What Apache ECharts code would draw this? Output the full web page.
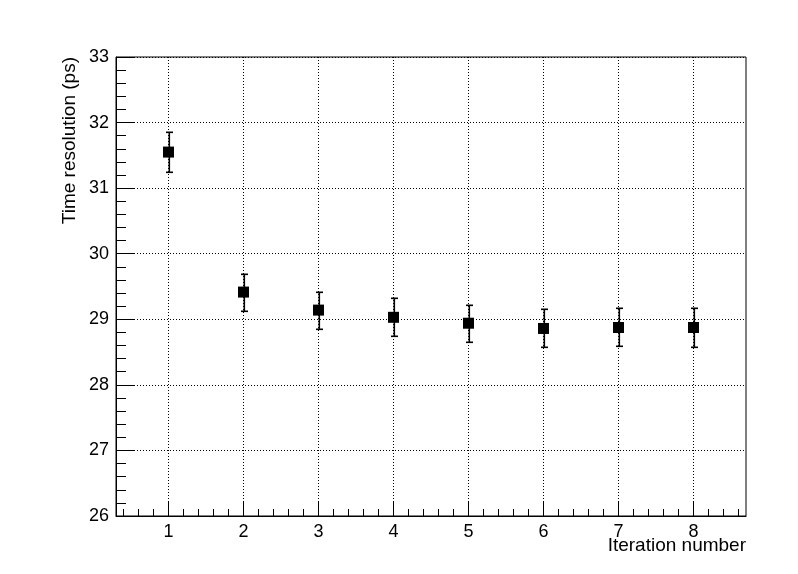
<!DOCTYPE html>
<html>
<head>
<meta charset="utf-8">
<script src="https://cdn.jsdelivr.net/npm/echarts@6/dist/echarts.min.js"></script>
<style>html,body{margin:0;padding:0;background:#fff;}#c{width:798px;height:574px;}</style>
</head>
<body>
<div id="c"></div>
<script>
// ---- data ----
var iterations = [1, 2, 3, 4, 5, 6, 7, 8];
var resolution = [31.55, 29.415, 29.14, 29.03, 28.94, 28.86, 28.875, 28.875];
var errUp   = [0.31, 0.28, 0.28, 0.29, 0.28, 0.29, 0.30, 0.30];
var errDown = [0.30, 0.29, 0.29, 0.28, 0.29, 0.28, 0.29, 0.30];
var xMajorTicks = [1, 2, 3, 4, 5, 6, 7, 8];
var xMinorTicks = [0.4, 0.6, 0.8, 1.2, 1.4, 1.6, 1.8, 2.2, 2.4, 2.6, 2.8, 3.2, 3.4, 3.6, 3.8,
                   4.2, 4.4, 4.6, 4.8, 5.2, 5.4, 5.6, 5.8, 6.2, 6.4, 6.6, 6.8, 7.2, 7.4, 7.6, 7.8,
                   8.2, 8.4, 8.6];
var xTitle = 'Iteration number';
var yTitle = 'Time resolution (ps)';

var FONT = 'Liberation Sans, Arial, Helvetica, sans-serif';
var chart = echarts.init(document.getElementById('c'), null, {renderer: 'canvas'});

var pointData = iterations.map(function (x, i) { return [x, resolution[i]]; });
var errData = iterations.map(function (x, i) {
  return [x, resolution[i] - errDown[i], resolution[i] + errUp[i]];
});

var option = {
  animation: false,
  backgroundColor: '#fff',
  grid: {
    left: 116, right: 52, top: 57, bottom: 58,
    show: true, borderColor: '#000', borderWidth: 1, backgroundColor: 'transparent'
  },
  xAxis: [{
    type: 'value', min: 0.3, max: 8.7, position: 'bottom',
    axisLine: {show: true, onZero: false, lineStyle: {color: '#000', width: 1}},
    axisTick: {show: true, inside: true, length: 15, customValues: xMajorTicks, lineStyle: {color: '#000', width: 1}},
    axisLabel: {show: true, customValues: xMajorTicks, fontSize: 18, fontFamily: FONT, color: '#000', margin: 7},
    splitLine: {show: true, lineStyle: {color: '#000', width: 1, type: [1, 2]}}
  }, {
    type: 'value', min: 0.3, max: 8.7, position: 'bottom',
    axisLine: {show: false},
    axisTick: {show: true, inside: true, length: 7, customValues: xMinorTicks, lineStyle: {color: '#000', width: 1}},
    axisLabel: {show: false},
    splitLine: {show: false}
  }],
  yAxis: {
    type: 'value', min: 26, max: 33, interval: 1,
    axisLine: {show: true, onZero: false, lineStyle: {color: '#000', width: 1}},
    axisTick: {show: true, inside: true, length: 18, lineStyle: {color: '#000', width: 1}},
    minorTick: {show: true, splitNumber: 5, length: 10, lineStyle: {color: '#000', width: 1}},
    axisLabel: {fontSize: 18, fontFamily: FONT, color: '#000', margin: 7},
    splitLine: {show: true, lineStyle: {color: '#000', width: 1, type: [1, 2]}}
  },
  series: [{
    type: 'custom',
    xAxisIndex: 0,
    data: errData,
    renderItem: function (params, api) {
      var x = api.value(0);
      var lo = api.coord([x, api.value(1)]);
      var hi = api.coord([x, api.value(2)]);
      var cx = Math.round(lo[0]);
      var ylo = Math.round(lo[1]);
      var yhi = Math.round(hi[1]);
      var st = {fill: '#000', stroke: null};
      return {
        type: 'group',
        children: [
          {type: 'rect', shape: {x: cx - 0.5, y: yhi, width: 1.6, height: ylo - yhi}, style: st},
          {type: 'rect', shape: {x: cx - 3, y: ylo - 0.5, width: 7, height: 1.6}, style: st},
          {type: 'rect', shape: {x: cx - 3, y: yhi - 0.5, width: 7, height: 1.6}, style: st}
        ]
      };
    },
    z: 5
  }, {
    type: 'scatter',
    xAxisIndex: 0,
    data: pointData,
    symbol: 'rect',
    symbolSize: 11,
    itemStyle: {color: '#000', opacity: 1},
    z: 6
  }],
  graphic: [{
    type: 'text', x: 70, y: 57, rotation: Math.PI / 2,
    style: {text: yTitle, font: '19px ' + FONT, fill: '#000', textAlign: 'right', textVerticalAlign: 'middle'}
  }, {
    type: 'text', x: 746, y: 546,
    style: {text: xTitle, font: '19px ' + FONT, fill: '#000', textAlign: 'right', textVerticalAlign: 'middle'}
  }]
};
chart.setOption(option);
</script>
</body>
</html>
